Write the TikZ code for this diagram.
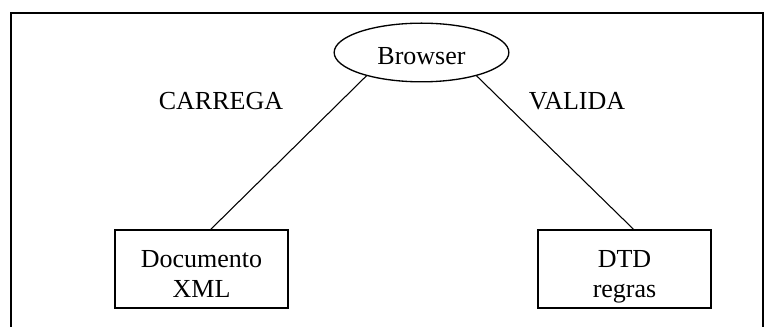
\documentclass[tikz,border=0pt]{standalone}
\usepackage{fontspec}
\setmainfont{Liberation Serif}
\usetikzlibrary{shapes.geometric}

\begin{document}
\begin{tikzpicture}[x=0.75pt, y=-0.75pt, font=\fontsize{19.5}{22.5}\selectfont,
  caixa/.style={draw, line width=1.1pt, minimum width=129.75pt, minimum height=58.5pt, align=center, inner sep=0pt, text depth=0pt},
  elipse/.style={draw, ellipse, line width=1pt, minimum width=131pt, minimum height=44pt, inner sep=0pt},
  liga/.style={line width=0.8pt}]

\useasboundingbox (0, 0) rectangle (767, 327);

\draw[line width=1.5pt] (10.8, 327) -- (10.8, 13.3) -- (763, 13.3) -- (763, 327);

\node[elipse] (browser) at (421.5, 52.5) {\rule{0pt}{18.9pt}Browser};
\node[caixa] (doc) at (201.5, 269) {\rule{0pt}{21pt}Documento\\XML};
\node[caixa] (dtd) at (624.5, 269) {\rule{0pt}{21pt}DTD\\regras};

\node[anchor=base] (carrega) at (221, 110) {CARREGA};
\node[anchor=base] (valida) at (577, 110) {VALIDA};

\draw[liga] (browser.203) -- ([xshift=7pt]doc.north);
\draw[liga] (browser.337) -- ([xshift=6.75pt]dtd.north);

\end{tikzpicture}
\end{document}
